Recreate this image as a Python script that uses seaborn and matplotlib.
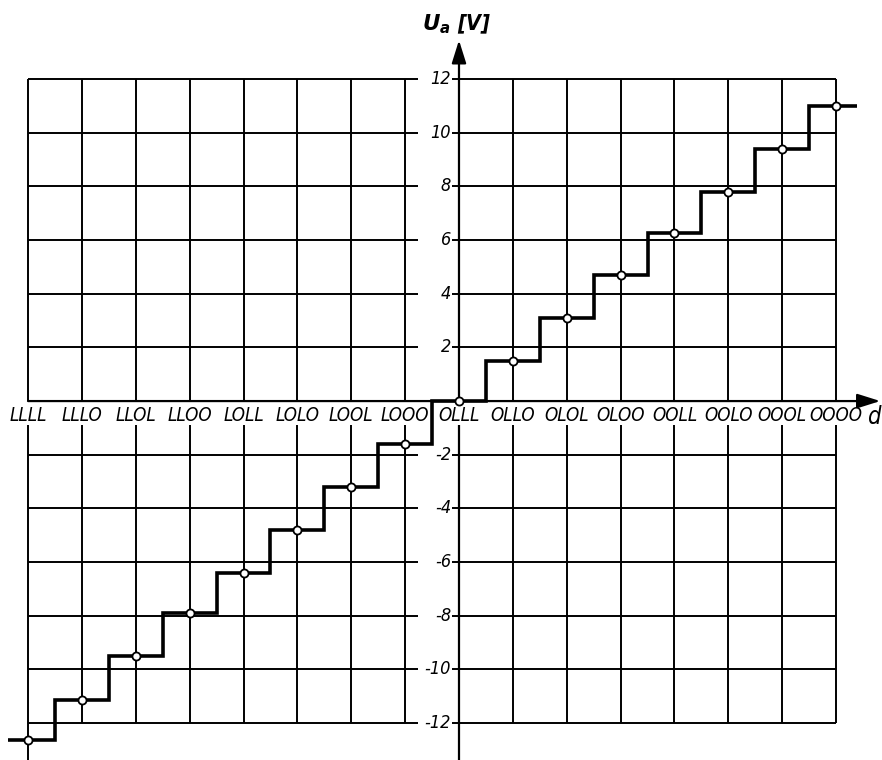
import numpy as np
import pandas as pd
import matplotlib
matplotlib.use("Agg")
import matplotlib.pyplot as plt
import seaborn as sns

# ---- data ----
codes = ["LLLL", "LLLO", "LLOL", "LLOO", "LOLL", "LOLO", "LOOL", "LOOO",
         "OLLL", "OLLO", "OLOL", "OLOO", "OOLL", "OOLO", "OOOL", "OOOO"]
voltages = [-12.65, -11.15, -9.5, -7.9, -6.4, -4.8, -3.2, -1.6,
            0.0, 1.5, 3.1, 4.7, 6.25, 7.8, 9.4, 11.0]
y_ticks = [-12, -10, -8, -6, -4, -2, 2, 4, 6, 8, 10, 12]
y_tick_labels = ["-12", "-10", "-8", "-6", "-4", "-2", "2", "4", "6", "8", "10", "12"]
y_title = r"$\mathbf{U_a}$ [V]"
x_title = "d"

sns.set_theme(style="white")
plt.rcParams["font.family"] = ["DejaVu Sans"]
plt.rcParams["mathtext.fontset"] = "custom"
plt.rcParams["mathtext.bf"] = "DejaVu Sans:italic:bold"

fig = plt.figure(figsize=(8.82, 7.6), dpi=100)
ax = fig.add_axes([0, 0, 1, 1])

pos = np.arange(len(codes)) - codes.index("OLLL")
df = pd.DataFrame({"pos": pos, "U": voltages, "code": codes})

ymin, ymax = -13.38, 14.95
grid_lw = 1.4
txt = dict(style="italic", stretch="condensed", color="black")

# vertical grid lines (broken under the code labels)
ax.vlines(pos, 0, 12, color="black", lw=grid_lw, zorder=1)
ax.vlines(pos, -12, -0.88, color="black", lw=grid_lw, zorder=1)
ax.vlines(pos[0], ymin, -12, color="black", lw=grid_lw, zorder=1)

# horizontal grid lines (broken under the y tick labels)
ax.hlines(y_ticks, pos[0], -0.77, color="black", lw=grid_lw, zorder=1)
ax.hlines(y_ticks, -0.13, pos[-1], color="black", lw=grid_lw, zorder=1)

# axes with arrows
arrow = dict(arrowstyle="-|>,head_length=0.7,head_width=0.22",
             mutation_scale=20, lw=1.6, color="black", shrinkA=0, shrinkB=0)
ax.annotate("", xy=(7.82, 0), xytext=(pos[0], 0), arrowprops=arrow, zorder=2)
ax.annotate("", xy=(0, 13.45), xytext=(0, 0), arrowprops=arrow, zorder=2)
ax.vlines(0, ymin, -0.88, color="black", lw=1.6, zorder=2)

# staircase
mids = (pos[:-1] + pos[1:]) / 2
edges = np.concatenate([[pos[0] - 0.38], mids, [pos[-1] + 0.38]])
ax.stairs(voltages, edges, baseline=None, color="black", lw=2.6, zorder=4)

# sample points
sns.scatterplot(data=df, x="pos", y="U", ax=ax, s=34, color="white",
                edgecolor="black", linewidth=1.3, zorder=5, legend=False)

# labels
for p, c in zip(pos, codes):
    ax.text(p, -0.52, c, ha="center", va="center", fontsize=13.5, **txt)
for yv, lab in zip(y_ticks, y_tick_labels):
    ax.text(-0.15, yv, lab, ha="right", va="center", fontsize=13, **txt)
ax.text(-0.04, 14.05, y_title, ha="center", va="center", fontsize=15.5,
        weight="bold", **txt)
ax.text(7.69, -0.6, x_title, ha="center", va="center", fontsize=17, **txt)

ax.set_xlim(-8.52, 7.852)
ax.set_ylim(ymin, ymax)
ax.axis("off")

fig.savefig("out.png", dpi=100, facecolor="white")
